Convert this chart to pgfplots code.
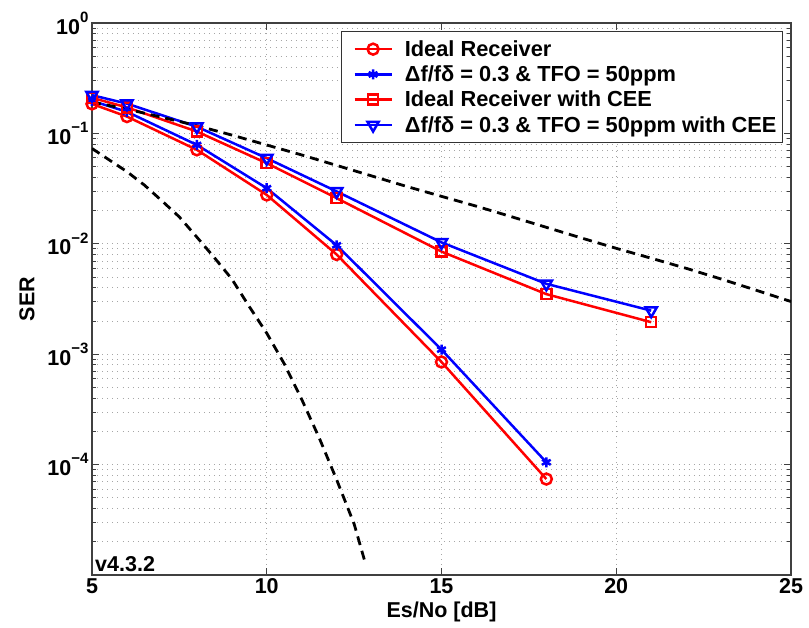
\documentclass[border=0pt]{standalone}
\usepackage{fontspec}
\setmainfont{Liberation Sans}
\usepackage{pgfplots}
\pgfplotsset{compat=1.18}
\newcommand\tenp[1]{10\raisebox{0.55em}{\fontsize{15}{15}\selectfont\bfseries #1}}
\newcommand\myfont{\fontsize{21.5}{25}\selectfont\bfseries}
\newcommand\legfont{\fontsize{21.8}{25}\selectfont\bfseries}
\definecolor{mred}{rgb}{1,0,0}
\definecolor{mblue}{rgb}{0,0,1}
\begin{document}
\begin{tikzpicture}
\useasboundingbox (-92pt,-53pt) rectangle (717pt,575pt);
\begin{axis}[
  scale only axis, width=699pt, height=552pt,
  xmin=5, xmax=25, ymode=log, ymin=1e-5, ymax=1,
  xtick={5,10,15,20,25},
  ytick={1e-5,1e-4,1e-3,1e-2,1e-1,1},
  yticklabels={{},\tenp{−4},\tenp{−3},\tenp{−2},\tenp{−1},\tenp{0}},
  minor ytick={2e-5,3e-5,4e-5,5e-5,6e-5,7e-5,8e-5,9e-5,
               2e-4,3e-4,4e-4,5e-4,6e-4,7e-4,8e-4,9e-4,
               2e-3,3e-3,4e-3,5e-3,6e-3,7e-3,8e-3,9e-3,
               2e-2,3e-2,4e-2,5e-2,6e-2,7e-2,8e-2,9e-2,
               2e-1,3e-1,4e-1,5e-1,6e-1,7e-1,8e-1,9e-1},
  /pgf/number format/assume math mode=true,
  tick align=inside,
  major tick length=7pt, minor tick length=4pt,
  tick style={black!75, line width=0.8pt},
  xmajorgrids, ymajorgrids, yminorgrids,
  major grid style={dash pattern=on 0.9pt off 4.2pt, gray!70, line width=0.8pt},
  minor grid style={dash pattern=on 0.9pt off 4.2pt, gray!70, line width=0.8pt},
  axis line style={black!75, line width=1.2pt},
  tick label style={font=\myfont},
  label style={font=\myfont},
  xlabel={Es/No [dB]},
  ylabel={SER},
  xlabel style={at={(axis description cs:0.5,-0.067)}, anchor=center},
  ylabel style={at={(axis description cs:-0.093,0.5)}, anchor=center},
  legend style={at={(0.9886,0.9855)}, anchor=north east, draw=black!80, line width=1pt,
    font=\legfont, row sep=4pt, inner xsep=6pt, inner ysep=7pt, nodes={inner xsep=0pt}},
  legend cell align=left,
  legend image code/.code={\path (-6pt,0pt) (49pt,0pt);\draw[mark repeat=2,mark phase=2] plot coordinates {(0pt,0pt) (18.5pt,0pt) (37pt,0pt)};},
]
\addplot[mred, line width=2.5pt, mark=o, mark size=5.5pt, mark options={solid}] coordinates {
 (5,0.185) (6,0.142) (8,0.071) (10,0.0277) (12,0.0080) (15,8.5e-4) (18,7.4e-5)};
\addlegendentry{Ideal Receiver}
\addplot[mblue, line width=2.5pt, mark=asterisk, mark size=5pt, mark options={solid}] coordinates {
 (5,0.197) (6,0.157) (8,0.0787) (10,0.0319) (12,0.0097) (15,1.1e-3) (18,1.05e-4)};
\addlegendentry{Δf/fδ = 0.3 \& TFO = 50ppm}
\addplot[mred, line width=2.5pt, mark=square, mark size=5pt, mark options={solid}] coordinates {
 (5,0.21) (6,0.172) (8,0.104) (10,0.0537) (12,0.0259) (15,0.0085) (18,0.0035) (21,0.00195)};
\addlegendentry{Ideal Receiver with CEE}
\addplot[mblue, line width=2.5pt, mark=triangle, mark size=6.5pt, mark options={solid, rotate=180}] coordinates {
 (5,0.222) (6,0.186) (8,0.115) (10,0.0596) (12,0.0298) (15,0.0103) (18,0.00434) (21,0.00248)};
\addlegendentry{Δf/fδ = 0.3 \& TFO = 50ppm with CEE}
\addplot[black, line width=2.8pt, dash pattern=on 9pt off 6pt, forget plot] coordinates {
 (5,0.073) (6,0.045) (6.5,0.034) (7,0.0245) (7.5,0.0175) (8,0.0115) (8.5,0.0075) (9,0.0048) (9.5,0.0027) (10,0.00155)
 (10.5,8.2e-4) (11,3.9e-4) (11.5,1.75e-4) (12,7.3e-5) (12.5,2.9e-5) (12.8,1.35e-5)};
\addplot[black, line width=2.8pt, dash pattern=on 9pt off 6pt, forget plot] coordinates {
 (5,0.192) (6,0.166) (7,0.140) (8,0.1175) (9,0.0966) (10,0.0785) (11,0.0638) (12,0.0513) (13,0.0412)
 (14,0.0331) (15,0.0269) (16,0.0219) (17,0.0176) (18,0.0141) (19,0.0113) (20,0.0091) (21,0.0074)
 (22,0.0060) (23,0.0048) (24,0.0038) (25,0.0030)};
\node[anchor=south west, font=\myfont, inner sep=3pt] at (rel axis cs:0,0) {v4.3.2};
\end{axis}
\end{tikzpicture}
\end{document}
